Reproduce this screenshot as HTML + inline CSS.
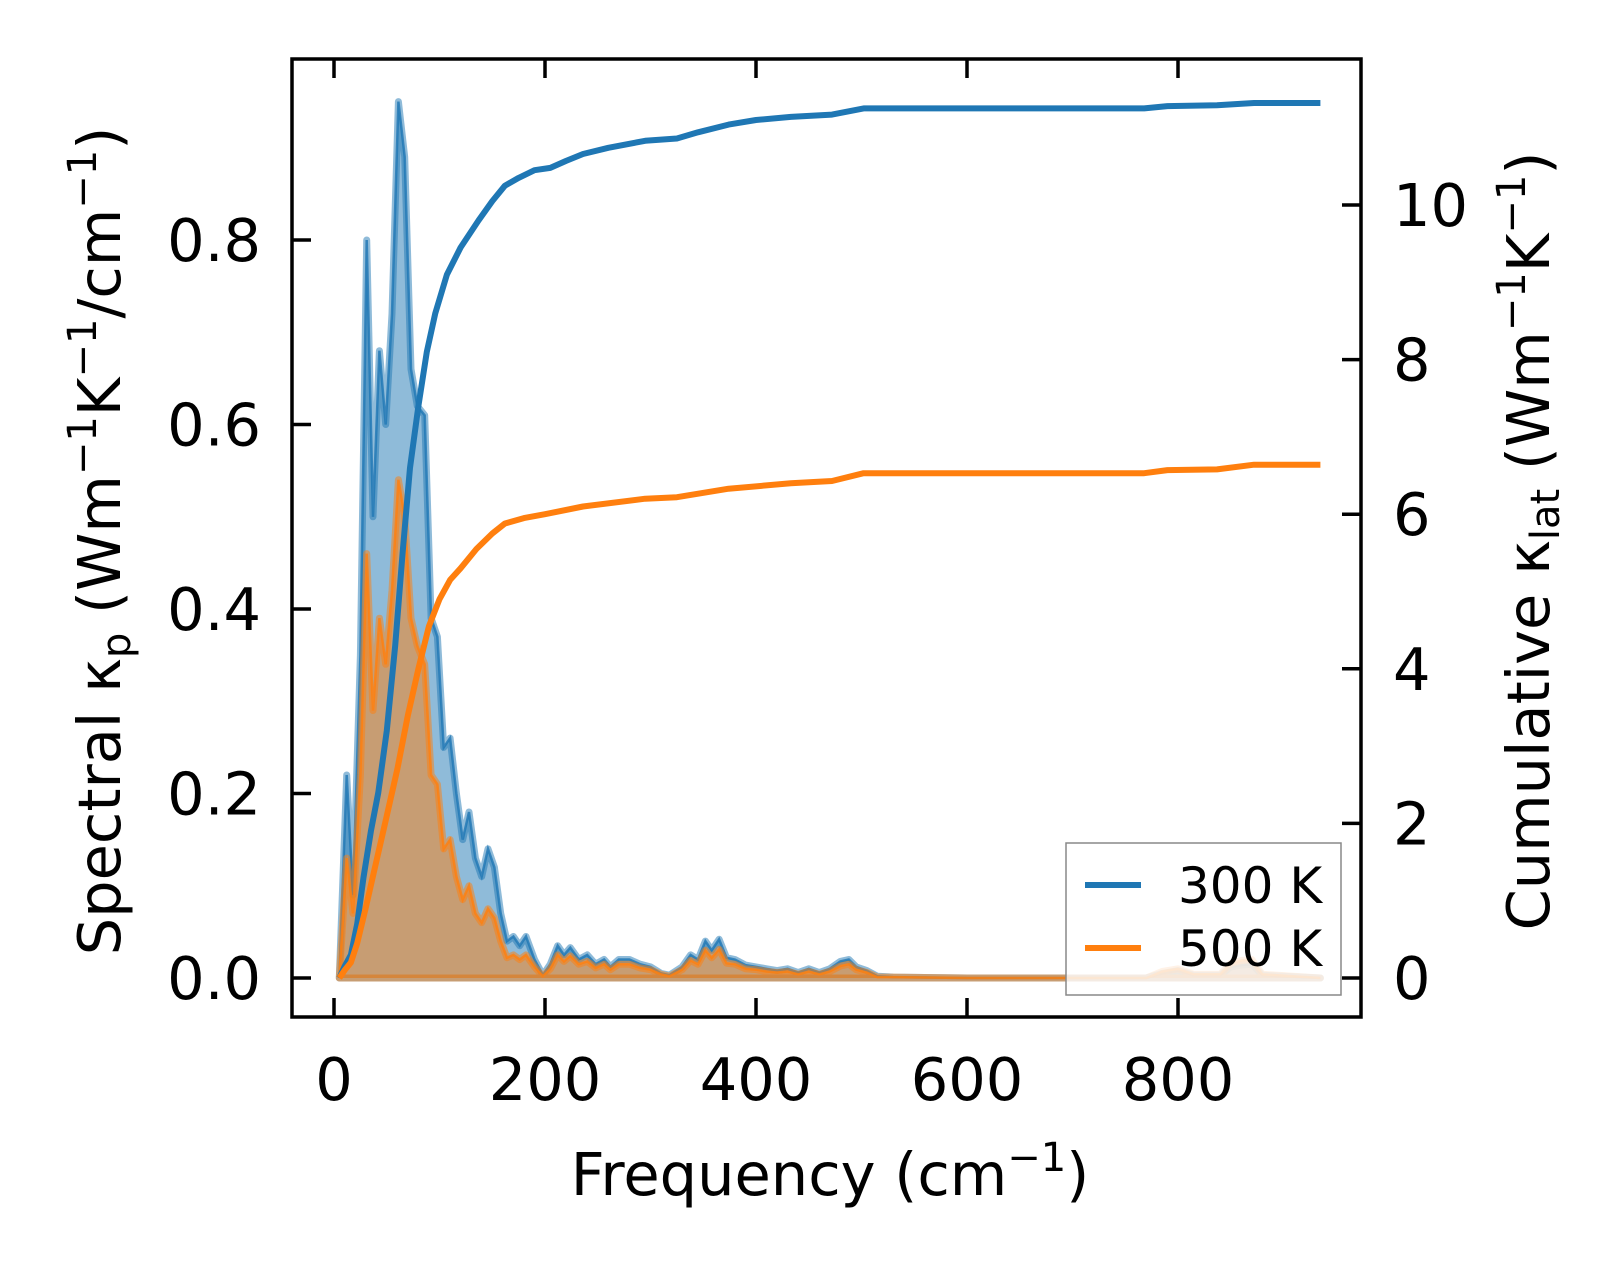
<!DOCTYPE html>
<html><head><meta charset="utf-8"><style>
body{margin:0;background:#fff}
svg{display:block;font-family:"DejaVu Sans","Liberation Sans",sans-serif}
</style></head><body>
<svg id="chart" width="1623" height="1264" viewBox="0 0 1623 1264">
<g id="plot"></g>
<g id="axes"></g>
</svg>
<script>
const freq300 = [5,12,18,25,31,37,43,49,55,61,67,73,79,86,92,98,104,110,116,122,128,134,140,146,152,158,164,170,176,182,190,198,205,212,218,224,232,240,248,256,262,270,280,290,300,310,318,330,338,345,352,358,365,372,380,390,400,410,420,430,440,450,460,470,480,488,495,505,515,530,600,700,770,785,800,815,840,850,860,870,880,935];
const spec300 = [0,0.22,0.09,0.35,0.80,0.50,0.68,0.60,0.72,0.95,0.89,0.66,0.62,0.61,0.39,0.37,0.25,0.26,0.20,0.15,0.18,0.13,0.11,0.14,0.12,0.07,0.04,0.045,0.035,0.045,0.02,0.003,0.015,0.035,0.025,0.033,0.02,0.025,0.015,0.02,0.012,0.02,0.02,0.015,0.012,0.005,0.003,0.012,0.025,0.02,0.04,0.03,0.042,0.022,0.02,0.014,0.012,0.01,0.008,0.01,0.006,0.01,0.006,0.01,0.018,0.02,0.012,0.008,0.002,0.001,0,0,0,0.005,0.008,0.003,0.003,0.012,0.014,0.015,0.003,0];
const spec500 = [0,0.13,0.07,0.22,0.46,0.29,0.39,0.34,0.42,0.54,0.50,0.39,0.36,0.34,0.22,0.21,0.14,0.15,0.11,0.085,0.10,0.07,0.06,0.075,0.065,0.04,0.022,0.025,0.02,0.025,0.012,0.002,0.01,0.025,0.018,0.024,0.015,0.018,0.011,0.015,0.009,0.015,0.015,0.011,0.009,0.004,0.002,0.009,0.019,0.015,0.03,0.022,0.031,0.016,0.015,0.01,0.009,0.007,0.006,0.007,0.004,0.007,0.004,0.007,0.013,0.015,0.009,0.006,0.001,0.001,0,0,0,0.007,0.01,0.004,0.004,0.016,0.019,0.02,0.004,0];
const cumFreq300 = [5,10,16,22,28,35,42,50,58,65,72,80,88,96,107,120,137,150,162,175,190,205,220,236,260,295,325,345,374,400,433,472,502,768,790,837,872,935];
const cum300 = [0,0.15,0.3,0.7,1.3,1.9,2.4,3.2,4.3,5.5,6.6,7.4,8.1,8.6,9.1,9.45,9.8,10.05,10.25,10.35,10.45,10.48,10.57,10.66,10.74,10.83,10.86,10.94,11.04,11.1,11.14,11.17,11.25,11.25,11.28,11.29,11.32,11.32];
const cumFreq500 = [5,10,16,22,30,40,50,60,70,80,90,100,110,120,135,150,162,180,200,236,295,325,374,433,472,502,768,790,837,872,935];
const cum500 = [0,0.1,0.2,0.45,0.9,1.5,2.1,2.7,3.4,4.0,4.55,4.9,5.15,5.3,5.55,5.75,5.88,5.95,6.0,6.1,6.2,6.22,6.33,6.4,6.43,6.53,6.53,6.57,6.58,6.64,6.64];
const xTicks = [0,200,400,600,800];
const yTicks = [0.0,0.2,0.4,0.6,0.8];
const y2Ticks = [0,2,4,6,8,10];

const L=292,R=1361,T=59,B=1017;
const X=v=>334+v*1.055;
const Y=v=>978-v*922.5;
const Y2=v=>978-v*77.3;
const NS="http://www.w3.org/2000/svg";
const plot=document.getElementById('plot'), axes=document.getElementById('axes');
function mk(tag,attrs,parent){const e=document.createElementNS(NS,tag);for(const k in attrs)e.setAttribute(k,attrs[k]);parent.appendChild(e);return e;}
function pts(xs,ys,fy){return xs.map((x,i)=>X(x).toFixed(1)+','+fy(ys[i]).toFixed(1)).join(' ');}

[[spec300,'#1f77b4','spectral-300k'],[spec500,'#ff7f0e','spectral-500k']].forEach(([s,c,n])=>{
  const p=pts(freq300,s,Y);
  const poly=mk('polygon',{points:X(freq300[0])+','+Y(0)+' '+p+' '+X(freq300[freq300.length-1])+','+Y(0),fill:c,'fill-opacity':0.5,stroke:c,'stroke-opacity':0.5,'stroke-width':7,'stroke-linejoin':'round'},plot);
  
  
  const ln=mk('polyline',{points:p,fill:'none',stroke:c,'stroke-width':2.5,'stroke-opacity':0.8},plot);
  
  
});
[[cumFreq300,cum300,'#1f77b4','cumulative-300k'],[cumFreq500,cum500,'#ff7f0e','cumulative-500k']].forEach(([f,s,c,n])=>{
  const ln=mk('polyline',{points:pts(f,s,Y2),fill:'none',stroke:c,'stroke-width':6,'stroke-linejoin':'round'},plot);
  
  
});
const fr=mk('rect',{x:L,y:T,width:R-L,height:B-T,fill:'none',stroke:'#000','stroke-width':3.5},axes);


xTicks.forEach(v=>{
  mk('line',{x1:X(v),x2:X(v),y1:B,y2:B-19,stroke:'#000','stroke-width':3.5},axes);
  mk('line',{x1:X(v),x2:X(v),y1:T,y2:T+19,stroke:'#000','stroke-width':3.5},axes);
  const t=mk('text',{x:X(v),y:1100,'font-size':59,'text-anchor':'middle'},axes);t.textContent=v;
  
  
});
yTicks.forEach(v=>{
  mk('line',{x1:L,x2:L+19,y1:Y(v),y2:Y(v),stroke:'#000','stroke-width':3.5},axes);
  const t=mk('text',{x:261,y:Y(v)+21,'font-size':59,'text-anchor':'end'},axes);t.textContent=v.toFixed(1);
  
  
});
y2Ticks.forEach(v=>{
  mk('line',{x1:R,x2:R-19,y1:Y2(v),y2:Y2(v),stroke:'#000','stroke-width':3.5},axes);
  const t=mk('text',{x:1393,y:Y2(v)+21,'font-size':59,'text-anchor':'start'},axes);t.textContent=v;
  
  
});
</script>
<svg style="position:absolute;left:0;top:0" width="1623" height="1264">
<g font-family="DejaVu Sans, Liberation Sans, sans-serif" font-size="59">
<text x="830" y="1195" text-anchor="middle">Frequency (cm<tspan font-size="40" dy="-24">−1</tspan><tspan dy="24">)</tspan></text>
<text transform="translate(120,541) rotate(-90)" text-anchor="middle">Spectral κ<tspan font-size="40" dy="10">p</tspan><tspan dy="-10"> (Wm</tspan><tspan font-size="40" dy="-24">−1</tspan><tspan dy="24">K</tspan><tspan font-size="40" dy="-24">−1</tspan><tspan dy="24">/cm</tspan><tspan font-size="40" dy="-24">−1</tspan><tspan dy="24">)</tspan></text>
<text transform="translate(1549,541) rotate(-90)" text-anchor="middle">Cumulative κ<tspan font-size="40" dy="10">lat</tspan><tspan dy="-10"> (Wm</tspan><tspan font-size="40" dy="-24">−1</tspan><tspan dy="24">K</tspan><tspan font-size="40" dy="-24">−1</tspan><tspan dy="24">)</tspan></text>
</g>
<g>
<rect x="1066" y="843" width="275" height="152" fill="#fff" fill-opacity="0.8" stroke="#888" stroke-width="1.5"/>
<line x1="1085" x2="1141" y1="885" y2="885" stroke="#1f77b4" stroke-width="6"/>
<text x="1178" y="903" font-size="50" font-family="DejaVu Sans, Liberation Sans, sans-serif">300 K</text>
<line x1="1085" x2="1141" y1="948" y2="948" stroke="#ff7f0e" stroke-width="6"/>
<text x="1178" y="966" font-size="50" font-family="DejaVu Sans, Liberation Sans, sans-serif">500 K</text>
</g>
</svg>
</body></html>
